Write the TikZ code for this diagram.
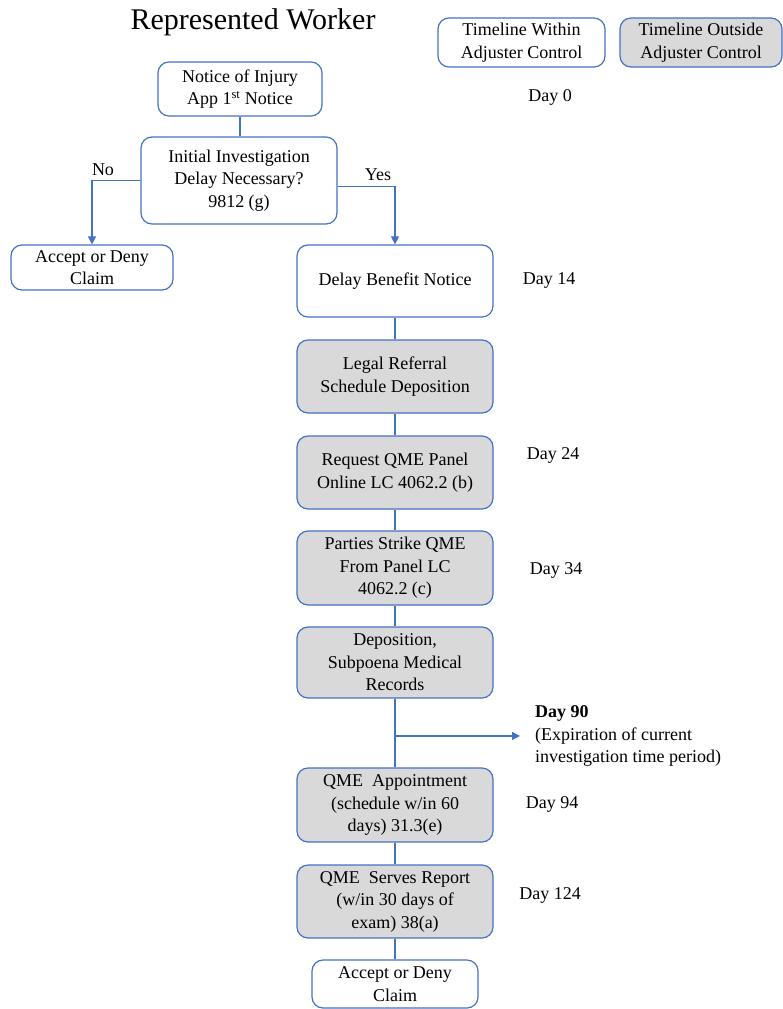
\documentclass[tikz,border=0pt]{standalone}
\usepackage{fontspec}
\setmainfont{LiberationSerif}[Extension=.ttf, UprightFont=*-Regular, BoldFont=*-Bold, ItalicFont=*-Italic, BoldItalicFont=*-BoldItalic]
\usetikzlibrary{arrows.meta,calc}
\definecolor{edge}{HTML}{4472C4}
\definecolor{shade}{HTML}{D9D9D9}
\begin{document}
\begin{tikzpicture}[x=1pt,y=-1pt,
  box/.style={draw=edge, line width=1.2pt, rounded corners=11pt, fill=white,
    align=center, inner sep=0pt, font=\fontsize{18}{22.5}\selectfont},
  gbox/.style={box, fill=shade},
  conn/.style={draw=edge, line width=1.1pt},
  tip/.style={conn, -{Triangle[length=8pt,width=8pt]}},
  lbl/.style={font=\fontsize{18}{22.5}\selectfont, inner sep=0pt}]
\useasboundingbox (0,0) rectangle (783,1009);

% title and legend
\node[font=\fontsize{30}{34}\selectfont, inner sep=0pt] (title) at (253,22) {Represented Worker};
\node[box, minimum width=167pt, minimum height=49pt] (legin) at (521.5,42.5) {Timeline Within\\Adjuster Control};
\node[gbox, minimum width=162pt, minimum height=49pt] (legout) at (701,42.5) {Timeline Outside\\Adjuster Control};

% flow boxes
\node[box, minimum width=164pt, minimum height=54pt] (notice) at (240,89) {Notice of Injury\\App 1\textsuperscript{st} Notice};
\node[box, minimum width=196pt, minimum height=87pt] (init) at (239,180.5) {Initial Investigation\\Delay Necessary?\\9812 (g)};
\node[box, minimum width=162pt, minimum height=45pt] (acc1) at (92,267.5) {Accept or Deny\\Claim};
\node[box, minimum width=196pt, minimum height=72pt] (delay) at (395,281) {Delay Benefit Notice};
\node[gbox, minimum width=196pt, minimum height=73pt] (legal) at (395,376.5) {Legal Referral\\Schedule Deposition};
\node[gbox, minimum width=196pt, minimum height=73pt] (req) at (395,472.5) {Request QME Panel\\Online LC 4062.2 (b)};
\node[gbox, minimum width=196pt, minimum height=74pt] (strike) at (395,568) {Parties Strike QME\\From Panel LC\\4062.2 (c)};
\node[gbox, minimum width=196pt, minimum height=71pt] (depo) at (395,662.5) {Deposition,\\Subpoena Medical\\Records};
\node[gbox, minimum width=196pt, minimum height=74pt] (appt) at (395,805) {QME\ \ Appointment\\(schedule w/in 60\\days) 31.3(e)};
\node[gbox, minimum width=196pt, minimum height=73pt] (serves) at (395,901.5) {QME\ \ Serves Report\\(w/in 30 days of\\exam) 38(a)};
\node[box, minimum width=166pt, minimum height=48pt] (acc2) at (395,984) {Accept or Deny\\Claim};

% day labels
\node[lbl] (d0) at (550,97) {Day 0};
\node[lbl] (d14) at (549,280) {Day 14};
\node[lbl] (d24) at (553,455) {Day 24};
\node[lbl] (d34) at (556,570) {Day 34};
\node[lbl] (d94) at (552,804) {Day 94};
\node[lbl] (d124) at (550,895) {Day 124};
\node[lbl, anchor=west, align=left] (d90txt) at (535,736) {\textbf{Day 90}\\(Expiration of current\\investigation time period)};

% branch labels
\node[lbl] (no) at (103,170) {No};
\node[lbl] (yes) at (378,175) {Yes};

% connectors
\draw[conn] (notice.south) -- (notice.south |- init.north);
\draw[tip] (init.west) -| (acc1.north);
\draw[tip] ([yshift=-6pt]init.east) -| (delay.north);
\draw[conn] (delay) -- (legal);
\draw[conn] (legal) -- (req);
\draw[conn] (req) -- (strike);
\draw[conn] (strike) -- (depo);
\draw[conn] (depo) -- (appt);
\draw[conn] (appt) -- (serves);
\draw[conn] (serves) -- (acc2);
\coordinate (d90) at ($(depo.south)!0.543!(appt.north)$);
\draw[tip, shorten >=15pt] (d90) -- (d90 -| d90txt.west);
\end{tikzpicture}
\end{document}
